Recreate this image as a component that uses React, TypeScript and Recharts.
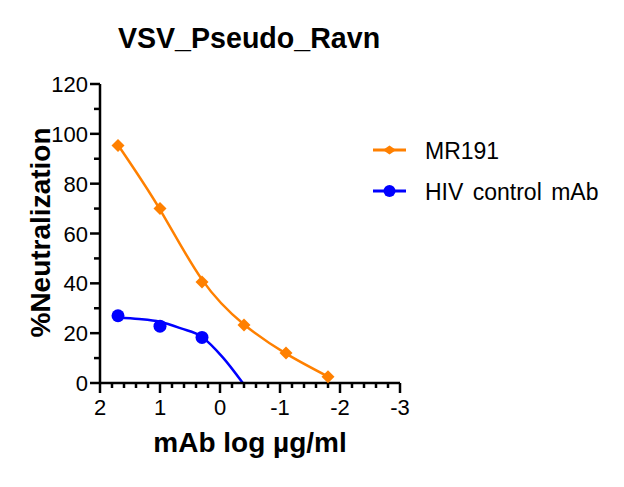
import React from "react";
import {
  ComposedChart,
  Line,
  Scatter,
  XAxis,
  YAxis,
  Legend,
} from "recharts";

// log10 of mAb concentration (µg/ml) for the measured points
const doseLog = [1.7, 1.0, 0.3, -0.4, -1.1, -1.8];
const mr191 = [95.3, 70.0, 40.5, 23.3, 12.0, 2.5];
const hivControl = [27.0, 22.8, 18.3];

// fitted curves
const mr191FitX = [1.7, 1.0, 0.3, -0.4, -1.1, -1.8];
const mr191FitY = [95.5, 69.6, 41.5, 23.5, 11.8, 2.6];
const hivFitX = [1.7, 1.35, 1.0, 0.65, 0.3, -0.05, -0.38];
const hivFitY = [26.2, 25.7, 24.6, 21.9, 18.5, 10.2, 0];

const xTicks = [2, 1.8, 1.6, 1.4, 1.2, 1, 0.8, 0.6, 0.4, 0.2, 0, -0.2, -0.4, -0.6, -0.8, -1, -1.2, -1.4, -1.6, -1.8, -2, -2.2, -2.4, -2.6, -2.8, -3];
const yTicks = [0, 10, 20, 30, 40, 50, 60, 70, 80, 90, 100, 110, 120];

const seriesNames = ["MR191", "HIV control mAb"];
const seriesColors = ["#FF8000", "#0000FF"];
const seriesShapes = ["diamond", "circle"];

const FONT = "'Liberation Sans', Arial, sans-serif";

const mr191Points = doseLog.map((x, i) => ({ x, y: mr191[i] }));
const hivPoints = hivControl.map((y, i) => ({ x: doseLog[i], y }));
const mr191Fit = mr191FitX.map((x, i) => ({ x, y: mr191FitY[i] }));
const hivFit = hivFitX.map((x, i) => ({ x, y: hivFitY[i] }));

function Diamond({ cx, cy, fill, r = 6.5, ry }: any) {
  const h = ry ?? r;
  return (
    <polygon
      points={`${cx},${cy - h} ${cx + r},${cy} ${cx},${cy + h} ${cx - r},${cy}`}
      fill={fill}
    />
  );
}

function Dot({ cx, cy, fill, r = 6.5 }: any) {
  return <circle cx={cx} cy={cy} r={r} fill={fill} />;
}

function XTick({ x, y, payload }: any) {
  const v = payload.value;
  const major = Math.abs(v - Math.round(v)) < 1e-6;
  return (
    <g>
      <line x1={x} x2={x} y1={y} y2={y + (major ? 10 : 5)} stroke="#000" strokeWidth={2.5} />
      {major && (
        <text x={x} y={y + 32} textAnchor="middle" fontSize={22} fontFamily={FONT} fill="#000">
          {Math.round(v)}
        </text>
      )}
    </g>
  );
}

function YTick({ x, y, payload }: any) {
  const v = payload.value;
  const major = v % 20 === 0;
  return (
    <g>
      <line x1={x} x2={x - (major ? 10 : 6)} y1={y} y2={y} stroke="#000" strokeWidth={2.5} />
      {major && (
        <text x={x - 12} y={y + 8} textAnchor="end" fontSize={22} fontFamily={FONT} fill="#000">
          {v}
        </text>
      )}
    </g>
  );
}

function LegendContent() {
  return (
    <div style={{ fontFamily: FONT, fontSize: 23, color: "#000", wordSpacing: 3 }}>
      {seriesNames.map((name, i) => (
        <div key={name} style={{ display: "flex", alignItems: "center", height: 41 }}>
          <svg width={33} height={16} style={{ marginRight: 19, marginTop: -3 }}>
            <line x1={0} x2={33} y1={8} y2={8} stroke={seriesColors[i]} strokeWidth={3} />
            {seriesShapes[i] === "diamond" ? (
              <Diamond cx={16.5} cy={8} r={6.5} ry={4.5} fill={seriesColors[i]} />
            ) : (
              <Dot cx={16.5} cy={8} r={6} fill={seriesColors[i]} />
            )}
          </svg>
          <span>{name}</span>
        </div>
      ))}
    </div>
  );
}

export default function App() {
  return (
    <div style={{ position: "absolute", left: 0, top: 0, width: 624, height: 487, background: "#fff" }}>
      <div
        style={{
          position: "absolute",
          left: 0,
          top: 24,
          width: 498,
          textAlign: "center",
          fontFamily: FONT,
          fontWeight: "bold",
          fontSize: 28.6,
          lineHeight: "28px",
          color: "#000",
        }}
      >
        VSV_Pseudo_Ravn
      </div>
      <ComposedChart
        width={624}
        height={487}
        margin={{ top: 84, right: 224, left: 99, bottom: 103 }}
        style={{ position: "absolute", left: 0, top: 0 }}
      >
        <XAxis
          type="number"
          dataKey="x"
          domain={[-3, 2]}
          reversed
          ticks={xTicks}
          interval={0}
          height={1}
          tickSize={0}
          tickMargin={0}
          tickLine={false}
          tick={<XTick />}
          axisLine={{ stroke: "#000", strokeWidth: 2.5 }}
          allowDataOverflow
          label={{
            content: ({ viewBox }: any) => (
              <text
                x={viewBox.x + viewBox.width / 2}
                y={viewBox.y + 69}
                textAnchor="middle"
                fontSize={28}
                fontWeight="bold"
                fontFamily={FONT}
                fill="#000"
              >
                mAb log µg/ml
              </text>
            ),
          }}
        />
        <YAxis
          type="number"
          dataKey="y"
          domain={[0, 120]}
          ticks={yTicks}
          interval={0}
          width={1}
          tickSize={0}
          tickMargin={0}
          tickLine={false}
          tick={<YTick />}
          axisLine={{ stroke: "#000", strokeWidth: 2.5 }}
          allowDataOverflow
          label={{
            content: ({ viewBox }: any) => {
              const lx = viewBox.x + viewBox.width - 50;
              const ly = viewBox.y + viewBox.height / 2 - 1;
              return (
                <text
                  x={lx}
                  y={ly}
                  transform={`rotate(-90, ${lx}, ${ly})`}
                  textAnchor="middle"
                  fontSize={28}
                  fontWeight="bold"
                  fontFamily={FONT}
                  fill="#000"
                >
                  %Neutralization
                </text>
              );
            },
          }}
        />
        <Line
          data={mr191Fit}
          dataKey="y"
          type="natural"
          stroke={seriesColors[0]}
          strokeWidth={2.5}
          dot={false}
          legendType="none"
          isAnimationActive={false}
        />
        <Line
          data={hivFit}
          dataKey="y"
          type="monotone"
          stroke={seriesColors[1]}
          strokeWidth={2.5}
          dot={false}
          legendType="none"
          isAnimationActive={false}
        />
        <Scatter
          name={seriesNames[0]}
          data={mr191Points}
          dataKey="y"
          fill={seriesColors[0]}
          shape={<Diamond />}
          isAnimationActive={false}
        />
        <Scatter
          name={seriesNames[1]}
          data={hivPoints}
          dataKey="y"
          fill={seriesColors[1]}
          shape={<Dot />}
          isAnimationActive={false}
        />
        <Legend
          layout="vertical"
          align="center"
          verticalAlign="middle"
          content={<LegendContent />}
          wrapperStyle={{ left: 373, top: 131, width: 250, height: 82 }}
        />
      </ComposedChart>
    </div>
  );
}
